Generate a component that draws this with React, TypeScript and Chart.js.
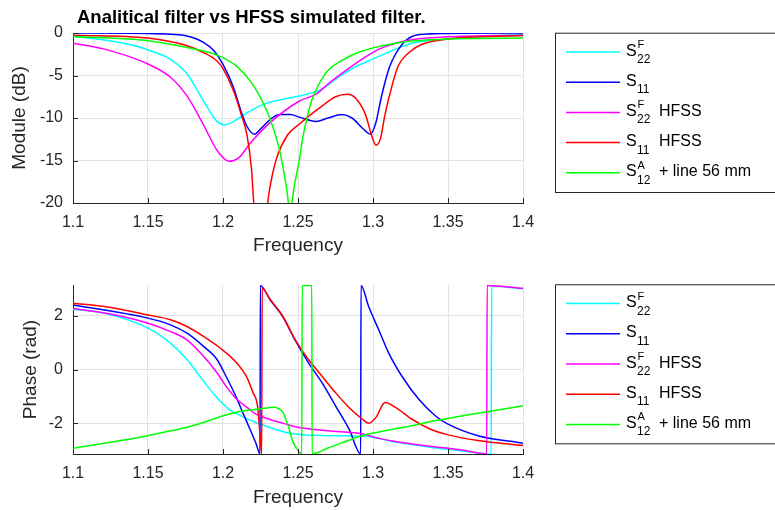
import React, { useEffect, useRef } from 'react';
import { Chart, registerables } from 'chart.js';

Chart.register(...registerables);

const FONT = '"Liberation Sans", Arial, Helvetica, sans-serif';
const AXIS_COLOR = '#262626';
const GRID_COLOR = '#e3e3e3';

const chartTitle = 'Analitical filter vs HFSS simulated filter.';
const seriesLabels = ['S22F', 'S11', 'S22F HFSS', 'S11 HFSS', 'S12A + line 56 mm'];
const seriesColors = ['#00ffff', '#0000ff', '#ff00ff', '#ff0000', '#00ff00'];
const legendSub = ['22', '11', '22', '11', '12'];
const legendSup = ['F', '', 'F', '', 'A'];
const legendSuffix = ['', '', 'HFSS', 'HFSS', '+ line 56 mm'];

const freqTicks = [1.1, 1.15, 1.2, 1.25, 1.3, 1.35, 1.4];
const magTicks = [-20, -15, -10, -5, 0];
const phaseTicks = [-2, 0, 2];

// ---------- Module (dB) ----------
const magF_S22F = [1.10, 1.12, 1.14, 1.15, 1.165, 1.176, 1.187, 1.196, 1.201, 1.205, 1.209, 1.216, 1.227, 1.24, 1.251, 1.2658, 1.277, 1.288, 1.30, 1.315, 1.326, 1.35, 1.37, 1.40];
const mag_S22F = [-0.4, -0.8, -1.45, -2.0, -3.1, -4.8, -8.0, -10.4, -10.8, -10.6, -10.2, -9.4, -8.4, -7.8, -7.4, -6.6, -5.2, -4.0, -3.05, -1.9, -1.2, -0.7, -0.4, -0.15];

const magF_S11 = [1.10, 1.15, 1.165, 1.176, 1.187, 1.194, 1.20, 1.207, 1.212, 1.216, 1.221, 1.225, 1.232, 1.238, 1.245, 1.251, 1.262, 1.27, 1.279, 1.286, 1.293, 1.2982, 1.302, 1.305, 1.308, 1.311, 1.315, 1.32, 1.325, 1.33, 1.35, 1.40];
const mag_S11 = [0, -0.05, -0.15, -0.35, -1.1, -2.1, -3.7, -6.4, -9.2, -11.0, -11.9, -11.3, -10.1, -9.6, -9.6, -9.9, -10.4, -10.0, -9.6, -10.0, -11.2, -11.9, -10.5, -8.0, -5.8, -4.0, -2.5, -1.2, -0.5, -0.2, -0.05, 0];

const magF_S22H = [1.10, 1.121, 1.15, 1.165, 1.176, 1.187, 1.196, 1.204, 1.211, 1.218, 1.231, 1.251, 1.262, 1.27, 1.282, 1.293, 1.304, 1.315, 1.326, 1.35, 1.40];
const mag_S22H = [-1.2, -1.9, -3.65, -5.2, -7.4, -10.8, -13.8, -15.1, -14.6, -13.0, -10.6, -8.0, -7.2, -6.0, -4.4, -3.05, -1.9, -1.2, -0.8, -0.45, -0.25];

const magF_S11H = [1.10, 1.15, 1.176, 1.187, 1.196, 1.20, 1.207, 1.212, 1.216, 1.219, 1.2205, 1.2252, 1.2298, 1.232, 1.236, 1.243, 1.251, 1.257, 1.266, 1.275, 1.283, 1.288, 1.295, 1.299, 1.302, 1.305, 1.308, 1.313, 1.317, 1.324, 1.333, 1.35, 1.40];
const mag_S11H = [-0.25, -0.6, -1.5, -2.3, -3.3, -4.2, -6.8, -9.5, -12.0, -16.0, -20.0, -30.0, -20.0, -17.5, -14.6, -12.0, -10.7, -9.8, -8.6, -7.5, -7.2, -7.6, -9.6, -12.0, -13.2, -12.4, -9.6, -6.0, -3.8, -2.3, -1.3, -0.7, -0.3];

const magF_S12A = [1.10, 1.15, 1.176, 1.191, 1.20, 1.209, 1.218, 1.225, 1.232, 1.238, 1.2424, 1.2447, 1.2475, 1.251, 1.2527, 1.256, 1.259, 1.264, 1.27, 1.279, 1.29, 1.30, 1.315, 1.326, 1.35, 1.40];
const mag_S12A = [-0.4, -0.9, -1.7, -2.3, -2.9, -3.9, -5.6, -7.6, -10.4, -14.0, -18.3, -21.0, -18.0, -14.8, -12.8, -10.0, -8.0, -6.0, -4.4, -3.25, -2.3, -1.75, -1.2, -0.95, -0.7, -0.6];

// ---------- Phase (rad) ----------
const phF_S22F = [1.10, 1.121, 1.15, 1.165, 1.176, 1.187, 1.196, 1.204, 1.213, 1.222, 1.231, 1.242, 1.251, 1.27, 1.293, 1.30, 1.315, 1.338, 1.361, 1.3788, 1.3791, 1.40];
const ph_S22F = [2.24, 2.09, 1.54, 0.98, 0.37, -0.43, -1.05, -1.48, -1.75, -1.97, -2.15, -2.34, -2.42, -2.46, -2.48, -2.52, -2.7, -2.89, -3.04, -3.14, 3.1, 3.0];

const phF_S11 = [1.10, 1.15, 1.165, 1.176, 1.187, 1.196, 1.202, 1.209, 1.213, 1.218, 1.222, 1.2247, 1.2249, 1.2315, 1.24, 1.248, 1.257, 1.266, 1.275, 1.284, 1.2918, 1.292, 1.2971, 1.3038, 1.3104, 1.3193, 1.3304, 1.3415, 1.35, 1.37, 1.40];
const ph_S11 = [2.40, 1.91, 1.66, 1.35, 0.86, 0.37, -0.25, -1.05, -1.58, -2.22, -2.75, -3.14, 3.12, 2.58, 1.95, 1.1, 0.25, -0.49, -1.35, -2.21, -3.14, 3.12, 2.34, 1.48, 0.62, -0.25, -1.1, -1.72, -2.03, -2.46, -2.74];

const phF_S22H = [1.10, 1.125, 1.15, 1.165, 1.176, 1.187, 1.196, 1.202, 1.209, 1.216, 1.222, 1.231, 1.242, 1.251, 1.27, 1.293, 1.304, 1.315, 1.338, 1.361, 1.3758, 1.3761, 1.40];
const ph_S22H = [2.27, 2.06, 1.72, 1.41, 1.1, 0.49, -0.12, -0.62, -1.1, -1.41, -1.66, -1.85, -2.03, -2.16, -2.28, -2.4, -2.56, -2.68, -2.85, -3.01, -3.14, 3.12, 3.02];

const phF_S11H = [1.10, 1.121, 1.15, 1.165, 1.176, 1.187, 1.198, 1.209, 1.216, 1.22, 1.223, 1.2245, 1.2258, 1.2261, 1.2315, 1.24, 1.248, 1.257, 1.266, 1.275, 1.284, 1.293, 1.297, 1.302, 1.308, 1.315, 1.326, 1.338, 1.35, 1.37, 1.40];
const ph_S11H = [2.46, 2.34, 2.03, 1.85, 1.6, 1.23, 0.8, 0.25, -0.3, -0.86, -1.35, -2.3, -3.14, 3.02, 2.6, 1.97, 1.12, 0.37, -0.25, -0.86, -1.41, -1.85, -2.0, -1.78, -1.23, -1.41, -1.85, -2.21, -2.43, -2.64, -2.83];

const phF_S12A = [1.10, 1.15, 1.165, 1.176, 1.187, 1.20, 1.213, 1.2225, 1.2313, 1.2345, 1.2368, 1.2401, 1.2434, 1.2467, 1.25, 1.2525, 1.2528, 1.2592, 1.2594, 1.27, 1.28, 1.2927, 1.31, 1.325, 1.3415, 1.36, 1.38, 1.40];
const ph_S12A = [-2.93, -2.46, -2.28, -2.15, -1.97, -1.72, -1.54, -1.48, -1.41, -1.40, -1.45, -1.6, -2.09, -2.7, -3.01, -3.14, 3.12, 3.12, -3.14, -2.92, -2.71, -2.46, -2.26, -2.1, -1.9, -1.72, -1.53, -1.35];

const magSeries: [number[], number[]][] = [
  [magF_S22F, mag_S22F],
  [magF_S11, mag_S11],
  [magF_S22H, mag_S22H],
  [magF_S11H, mag_S11H],
  [magF_S12A, mag_S12A],
];
const phaseSeries: [number[], number[]][] = [
  [phF_S22F, ph_S22F],
  [phF_S11, ph_S11],
  [phF_S22H, ph_S22H],
  [phF_S11H, ph_S11H],
  [phF_S12A, ph_S12A],
];

function decorPlugin(legendTop: number, legendBottom: number, title?: string) {
  return {
    id: 'octaveDecor',
    afterDraw(chart: any) {
      const { ctx, chartArea: a, scales } = chart;
      ctx.save();
      // inward tick marks
      ctx.strokeStyle = AXIS_COLOR;
      ctx.lineWidth = 1;
      ctx.beginPath();
      for (const t of scales.x.ticks) {
        const px = Math.round(scales.x.getPixelForValue(t.value)) + 0.5;
        ctx.moveTo(px, a.bottom);
        ctx.lineTo(px, a.bottom - 5);
      }
      for (const t of scales.y.ticks) {
        const py = Math.round(scales.y.getPixelForValue(t.value)) + 0.5;
        ctx.moveTo(a.left, py);
        ctx.lineTo(a.left + 5, py);
      }
      ctx.stroke();

      if (title) {
        ctx.font = `bold 18.5px ${FONT}`;
        ctx.fillStyle = '#000';
        ctx.textAlign = 'left';
        ctx.textBaseline = 'alphabetic';
        ctx.fillText(title, 77, 22.7);
      }

      // legend box
      ctx.lineWidth = 1;
      ctx.strokeStyle = AXIS_COLOR;
      ctx.strokeRect(555.5, legendTop + 0.5, 300, legendBottom - legendTop);
      ctx.textAlign = 'left';
      ctx.textBaseline = 'alphabetic';
      for (let i = 0; i < seriesColors.length; i++) {
        const L = legendTop + 19.3 + 30.2 * i;
        ctx.strokeStyle = seriesColors[i];
        ctx.lineWidth = 1.5;
        ctx.beginPath();
        ctx.moveTo(566, L);
        ctx.lineTo(620, L);
        ctx.stroke();
        ctx.fillStyle = '#000';
        ctx.font = `16px ${FONT}`;
        ctx.fillText('S', 626, L + 3.5);
        ctx.font = `12px ${FONT}`;
        ctx.fillText(legendSub[i], 637, L + 11);
        if (legendSup[i]) {
          ctx.font = `11px ${FONT}`;
          ctx.fillText(legendSup[i], 637.5, L - 4);
        }
        if (legendSuffix[i]) {
          ctx.font = `16px ${FONT}`;
          ctx.fillText(legendSuffix[i], 659, L + 3.5);
        }
      }
      ctx.restore();
    },
  };
}

function buildChart(canvas: HTMLCanvasElement, kind: 'mag' | 'phase') {
  const isMag = kind === 'mag';
  const series = isMag ? magSeries : phaseSeries;
  const datasets = series.map(([f, v], i) => ({
    label: seriesLabels[i],
    data: f.map((x, j) => ({ x, y: v[j] })),
    borderColor: seriesColors[i],
    backgroundColor: seriesColors[i],
    borderWidth: 1.5,
    pointRadius: 0,
    pointHoverRadius: 0,
    cubicInterpolationMode: 'monotone' as const,
    fill: false,
    order: series.length - 1 - i,
  }));
  const yTicks = isMag ? magTicks : phaseTicks;
  return new Chart(canvas, {
    type: 'line',
    data: { datasets },
    options: {
      responsive: false,
      animation: false,
      devicePixelRatio: 1,
      events: [],
      layout: { padding: { left: 0, right: 252, top: isMag ? 33 : 30, bottom: 0 } },
      plugins: { legend: { display: false }, tooltip: { enabled: false }, title: { display: false } },
      scales: {
        x: {
          type: 'linear',
          min: 1.1,
          max: 1.4,
          afterBuildTicks: (s: any) => {
            s.ticks = freqTicks.map((v) => ({ value: v }));
          },
          afterFit: (s: any) => {
            s.height = isMag ? 52 : 56;
          },
          ticks: {
            autoSkip: false,
            maxRotation: 0,
            padding: 10,
            color: AXIS_COLOR,
            font: { family: FONT, size: 16 },
            callback: (v: any) => String(Number(Number(v).toFixed(2))),
          },
          grid: { color: GRID_COLOR, lineWidth: 1, drawTicks: false },
          border: { color: AXIS_COLOR, width: 1 },
          title: {
            display: true,
            text: 'Frequency',
            color: AXIS_COLOR,
            font: { family: FONT, size: 19, lineHeight: 1 },
            padding: { top: 0, bottom: isMag ? 0 : 2.5 },
          },
        },
        y: {
          type: 'linear',
          min: isMag ? -20 : -Math.PI,
          max: isMag ? 0 : Math.PI,
          afterBuildTicks: (s: any) => {
            s.ticks = yTicks.map((v) => ({ value: v }));
          },
          afterFit: (s: any) => {
            s.width = 73;
          },
          ticks: {
            autoSkip: false,
            padding: 10,
            color: AXIS_COLOR,
            font: { family: FONT, size: 16 },
            callback: (v: any) => String(v),
          },
          grid: { color: GRID_COLOR, lineWidth: 1, drawTicks: false },
          border: { color: AXIS_COLOR, width: 1 },
          title: {
            display: true,
            text: isMag ? 'Module (dB)' : 'Phase (rad)',
            color: AXIS_COLOR,
            font: { family: FONT, size: 19, lineHeight: 1.2 },
            padding: { top: isMag ? 8.6 : 19.6, bottom: 0 },
          },
        },
      },
    },
    plugins: [decorPlugin(isMag ? 32.7 : 29.3, isMag ? 192 : 188.3, isMag ? chartTitle : undefined)],
  } as any);
}

function Panel({ kind }: { kind: 'mag' | 'phase' }) {
  const ref = useRef<HTMLCanvasElement | null>(null);
  useEffect(() => {
    if (!ref.current) return;
    const chart = buildChart(ref.current, kind);
    return () => chart.destroy();
  }, [kind]);
  return <canvas ref={ref} width={775} height={255} style={{ display: 'block', width: 775, height: 255 }} />;
}

export default function App() {
  return (
    <div style={{ position: 'absolute', left: 0, top: 0, width: 775, height: 510, background: '#fff', overflow: 'hidden' }}>
      <Panel kind="mag" />
      <Panel kind="phase" />
    </div>
  );
}
